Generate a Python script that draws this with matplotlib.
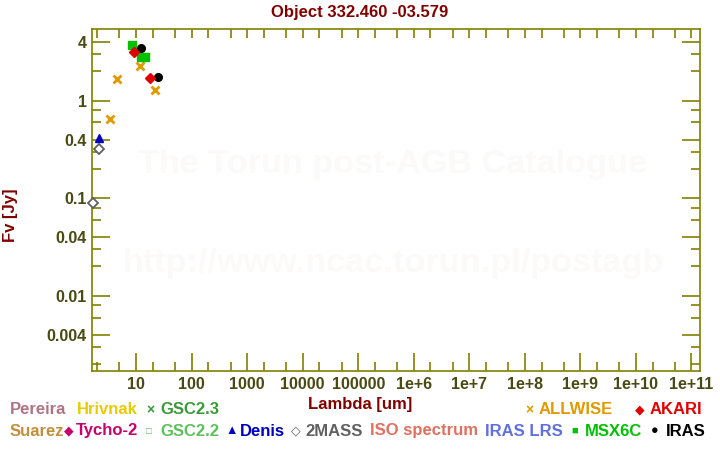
import matplotlib
matplotlib.use("Agg")
import matplotlib.pyplot as plt
from matplotlib.ticker import FixedLocator, NullFormatter, FixedFormatter

plt.rcParams['font.family'] = ['Liberation Sans', 'DejaVu Sans']
plt.rcParams['font.weight'] = 'bold'

# ---- data (wavelength in um, flux in Jy) ----
allwise_wl = [3.35, 4.6, 11.6, 22.1]
allwise_fx = [0.65, 1.66, 2.25, 1.28]
akari_wl = [9.0, 18.0]
akari_fx = [3.13, 1.70]
denis_wl = [2.15]
denis_fx = [0.418]
twomass_wl = [1.65, 2.16]
twomass_fx = [0.089, 0.318]
msx_wl = [8.28, 12.13, 14.65]
msx_fx = [3.70, 2.78, 2.78]
iras_wl = [12.0, 25.0]
iras_fx = [3.44, 1.74]

xticks_major = [10**k for k in range(1, 12)]
xtick_labels = ['10', '100', '1000', '10000', '100000', '1e+6', '1e+7', '1e+8', '1e+9', '1e+10', '1e+11']
yticks_major = [4, 1, 0.4, 0.1, 0.04, 0.01, 0.004]
ytick_labels = ['4', '1', '0.4', '0.1', '0.04', '0.01', '0.004']

olive = '#808000'
ticklab = '#4a4a14'
darkred = '#800000'

fig = plt.figure(figsize=(7.2, 4.5), dpi=100)
ax = fig.add_axes([0.128, 0.1756, 0.9717 - 0.128, 0.9349 - 0.1756])
ax.set_xscale('log')
ax.set_yscale('log')
ax.set_xlim(1.61, 1.41e11)
ax.set_ylim(0.0017, 5.39)

# watermark
ax.text(0.495, 0.605, 'The Torun post-AGB Catalogue', transform=ax.transAxes,
        ha='center', va='center', fontsize=24.7, color='#fbfaf8', fontweight='bold', zorder=0)
ax.text(0.495, 0.315, 'http://www.ncac.torun.pl/postagb', transform=ax.transAxes,
        ha='center', va='center', fontsize=24.7, color='#fbfaf8', fontweight='bold', zorder=0)

ax.plot(twomass_wl, twomass_fx, linestyle='none', marker='D', ms=5, mfc='white', mec='#606060',
        mew=1.3, zorder=3, clip_on=False)
ax.plot(denis_wl, denis_fx, linestyle='none', marker='^', ms=6, color='#0000c0', zorder=3, clip_on=False)
ax.plot(allwise_wl, allwise_fx, linestyle='none', marker='x', ms=5.5, mew=2, color='#e09a00', zorder=3)
ax.plot(msx_wl, msx_fx, linestyle='none', marker='s', ms=5.5, color='#00c000', zorder=3)
ax.plot(iras_wl, iras_fx, linestyle='none', marker='o', ms=5.5, color='black', zorder=4)
ax.plot(akari_wl, akari_fx, linestyle='none', marker='D', ms=5.5, color='#e00000', zorder=5)

# ticks
minor_x = []
for k in range(0, 12):
    for m in (2, 5):
        minor_x.append(m * 10**k)
ax.xaxis.set_major_locator(FixedLocator(xticks_major))
ax.xaxis.set_major_formatter(FixedFormatter(xtick_labels))
ax.xaxis.set_minor_locator(FixedLocator(minor_x))
ax.xaxis.set_minor_formatter(NullFormatter())

minor_y = []
for k in range(-3, 1):
    for m in (2, 3, 6, 8):
        minor_y.append(m * 10.0**k)
ax.yaxis.set_major_locator(FixedLocator(yticks_major))
ax.yaxis.set_major_formatter(FixedFormatter(ytick_labels))
ax.yaxis.set_minor_locator(FixedLocator(minor_y))
ax.yaxis.set_minor_formatter(NullFormatter())

ax.tick_params(axis='both', which='major', direction='in', length=13, width=1.2, color=olive,
               labelsize=11.5, labelcolor=ticklab, pad=4)
ax.tick_params(axis='both', which='minor', direction='in', length=6.5, width=1.2, color=olive)
ax.tick_params(axis='y', which='both', right=True)
ax.tick_params(axis='x', which='both', top=True)
for lab in ax.get_xticklabels() + ax.get_yticklabels():
    lab.set_fontweight('bold')

for t in ax.xaxis.get_major_ticks():
    t.tick2line.set_markersize(6.5)

for s in ax.spines.values():
    s.set_color(olive)
    s.set_linewidth(1.2)

fig.text(0.5, 1 - 12 / 450, 'Object 332.460 -03.579', ha='center', va='center',
         fontsize=12, color=darkred, fontweight='bold')
fig.text(360 / 720, 1 - 404 / 450, 'Lambda [um]', ha='center', va='center',
         fontsize=12, color=darkred, fontweight='bold')
fig.text(10 / 720, 1 - 215 / 450, 'Fv [Jy]', ha='center', va='center', rotation=90,
         fontsize=12, color=darkred, fontweight='bold')

# legend rows
row1 = 1 - 410 / 450
row2 = 1 - 431 / 450
items = [
    (10, row1, 'Pereira', '#b07484', 12),
    (77, row1, 'Hrivnak', '#e8cc00', 12),
    (146, row1, '×', '#3a9a3a', 10),
    (160, row1, 'GSC2.3', '#3a9a3a', 12),
    (525, row1, '×', '#e09a00', 10),
    (539, row1, 'ALLWISE', '#e09a00', 12),
    (635, row1, '◆', '#e00000', 9),
    (650, row1, 'AKARI', '#e00000', 12),
    (10, row2, 'Suarez', '#c0903c', 12),
    (64, row2, '◆', '#c8006c', 9),
    (76, row2, 'Tycho-2', '#c8006c', 12),
    (146, row2, '□', '#5cc05c', 7),
    (160, row2, 'GSC2.2', '#5cc05c', 12),
    (225, row2, '▲', '#0000c0', 9),
    (240, row2, 'Denis', '#0000c0', 12),
    (291, row2, '◇', '#606060', 9),
    (305, row2, '2MASS', '#606060', 12),
    (370, row2, 'ISO spectrum', '#e07060', 12),
    (485, row2, 'IRAS LRS', '#6070e0', 12),
    (571, row2, '■', '#00c000', 8),
    (585, row2, 'MSX6C', '#00c000', 12),
    (651, row2, '●', '#000000', 9),
    (666, row2, 'IRAS', '#000000', 12),
]
for x, y, s, c, fs in items:
    fig.text(x / 720, y, s, ha='left', va='center', color=c, fontweight='bold', fontsize=fs)

fig.savefig('out.png', dpi=100)
